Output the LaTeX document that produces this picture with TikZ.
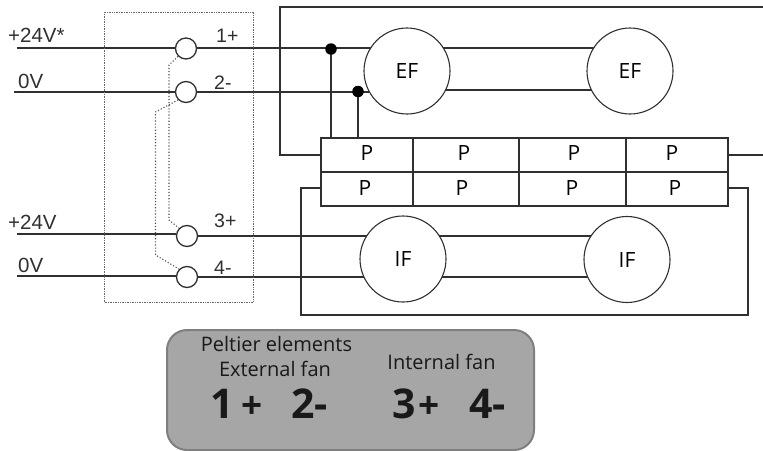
\documentclass[tikz,border=0pt]{standalone}
\usepackage{fontspec}
\setmainfont{Open Sans}
\newfontfamily\arialf{Liberation Sans}
\usetikzlibrary{backgrounds}
\definecolor{wirec}{HTML}{303030}
\definecolor{panelc}{HTML}{A6A6A6}
\definecolor{panelb}{HTML}{7F7F7F}
\tikzset{
  wire/.style={draw=wirec,line width=1.5pt},
  termc/.style={circle,draw=wirec,fill=white,line width=1.3pt,minimum size=21pt,inner sep=0pt},
  fan/.style={circle,draw=wirec,fill=white,line width=1.1pt,minimum size=86pt,inner sep=0pt,font=\fontsize{21}{21}\selectfont},
  cell/.style={rectangle,draw=wirec,line width=1.5pt,inner sep=0pt},
  ptext/.style={inner sep=0pt,font=\fontsize{21}{21}\selectfont},
  lab/.style={inner sep=0pt,font=\arialf\fontsize{20.5}{21}\selectfont,text=wirec},
  numlab/.style={inner sep=0pt,font=\arialf\fontsize{19.5}{20}\selectfont,text=wirec},
  dotwire/.style={draw=black!70,line width=1.1pt,dotted},
  captxt/.style={inner sep=0pt,font=\fontsize{20}{20}\selectfont,text=black!90},
  bigtxt/.style={inner sep=0pt,font=\bfseries\fontsize{41}{41}\selectfont,text=black!90},
  plustxt/.style={inner sep=0pt,font=\bfseries\fontsize{37}{37}\selectfont,text=black!90},
  junct/.style={circle,fill=black,inner sep=0pt,minimum size=11.5pt}
}
\begin{document}
\begin{tikzpicture}[x=1pt,y=-1pt]
\useasboundingbox (0,0) rectangle (763,450);
% terminal box
\node[draw=black!60,densely dotted,line width=.7pt,minimum width=149pt,minimum height=290pt,inner sep=0pt] (tbox) at (179,157) {};
% free ends
\coordinate (in1) at (17,48);
\coordinate (in2) at (14,92);
\coordinate (in3) at (17,234);
\coordinate (in4) at (17,276);
\coordinate (ftl) at (280,7);
\coordinate (ftr) at (763,7);
\coordinate (fsr) at (763,155);
\coordinate (lbl) at (301,315);
\coordinate (lbr) at (748,315);
\coordinate (ltr) at (748,188);
\coordinate (lo1) at (0,90);
\coordinate (d1a) at (169,65);
\coordinate (d1b) at (169,220);
\coordinate (d2a) at (155.5,112);
\coordinate (d2b) at (155.5,255);
% terminals
\node[termc] (t1) at (186,48.5) {};
\node[termc] (t2) at (186,92) {};
\node[termc] (t3) at (187,236) {};
\node[termc] (t4) at (187,277) {};
% fans
\node[fan] (ef1) at (407,71) {EF};
\node[fan] (ef2) at (630,71) {EF};
\node[fan] (if1) at (403,259) {IF};
\node[fan] (if2) at (627,259.5) {IF};
% Peltier table
\foreach \n/\a/\b in {a/321/413,b/413/519,c/519/626,d/626/728}{
  \pgfmathsetlengthmacro{\w}{(\b-\a)*1pt}
  \node[cell,minimum width=\w,minimum height=34pt] (u\n) at ({(\a+\b)/2},155) {};
  \node[cell,minimum width=\w,minimum height=34pt] (l\n) at ({(\a+\b)/2},189) {};
}
\node[ptext] (pua) at (367,153) {P};
\node[ptext] (pub) at (464,153) {P};
\node[ptext] (puc) at (574,153) {P};
\node[ptext] (pud) at (672,153) {P};
\node[ptext] (pla) at (365,188.5) {P};
\node[ptext] (plb) at (462,188.5) {P};
\node[ptext] (plc) at (572,188.5) {P};
\node[ptext] (pld) at (675,188.5) {P};
% junctions
\node[junct] (j1) at (331,49) {};
\node[junct] (j2) at (358,91.5) {};
% labels
\node[lab,anchor=base west] (l24a) at (8,42.5) {+24V*};
\node[lab,anchor=base west] (l0a) at (18,88) {0V};
\node[lab,anchor=base west] (l24b) at (8,229) {+24V};
\node[lab,anchor=base west] (l0b) at (18,272.5) {0V};
\node[numlab,anchor=base west] (n1) at (216,42.5) {1+};
\node[numlab,anchor=base west] (n2) at (214,89) {2-};
\node[numlab,anchor=base west] (n3) at (214,227.5) {3+};
\node[numlab,anchor=base west] (n4) at (214,274) {4-};
% panel
\node[draw=panelb,fill=panelc,line width=2pt,rounded corners=20pt,minimum width=367pt,minimum height=120pt,inner sep=0pt] (panel) at (350.5,390) {};
\node[captxt] (c1) at (276.5,344) {Peltier elements};
\node[captxt] (c2) at (275,369) {External fan};
\node[captxt] (c3) at (441.5,361.5) {Internal fan};
\node[bigtxt,anchor=base west] (b1) at (210,418) {1};
\node[plustxt,anchor=base west] (b2) at (241,418) {+};
\node[bigtxt,anchor=base west] (b3) at (291,418) {2-};
\node[bigtxt,anchor=base west] (b4) at (392,418) {3};
\node[plustxt,anchor=base west] (b5) at (418,418) {+};
\node[bigtxt,anchor=base west] (b6) at (469,418) {4-};
% wires behind
\begin{pgfonlayer}{background}
\draw[wire] (in1) -- (in1 -| ef2.center);
\draw[wire] (in2) -- (t2.center) -- (t2 -| ef1.center);
\draw[wire] (lo1 -| ef1.center) -- (lo1 -| ef2.center);
\draw[wire] (in3) -- (in3 -| t3.west);
\draw[wire] (t3.center) -- (t3 -| if2.center);
\draw[wire] (in4) -- (in4 -| t4.west);
\draw[wire] (t4.center) -- (t4 -| if2.center);
\draw[wire] (j1.center) -- (j1 |- ua.north);
\draw[wire] (j2.center) -- (j2 |- ua.north);
\draw[wire] (ua.west) -- (ua.west -| ftl) -- (ftl) -- (ftr);
\draw[wire] (ud.east) -- (fsr);
\draw[wire] (ltr -| ld.east) -- (ltr) -- (lbr) -- (lbl) -- (lbl |- ltr) -- (ltr -| la.west);
\draw[dotwire] (t1.south west) -- (d1a) -- (d1b) -- (t3.north west);
\draw[dotwire] (t2.south west) -- (d2a) -- (d2b) -- (t4.north west);
\end{pgfonlayer}
\end{tikzpicture}
\end{document}
